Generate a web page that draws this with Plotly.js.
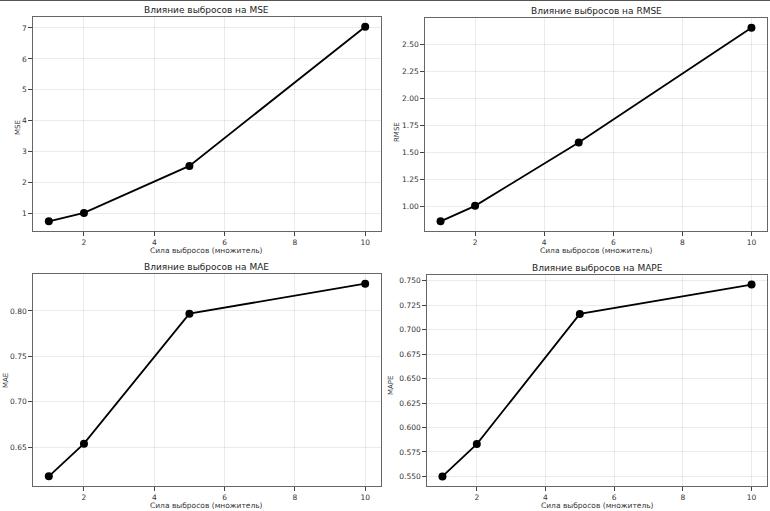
<!DOCTYPE html>
<html><head><meta charset="utf-8">
<script src="https://cdn.plot.ly/plotly-3.0.1.min.js"></script>
<style>html,body{margin:0;padding:0;background:#fff}#c{width:770px;height:511px}</style>
</head><body><div id="c"></div>
<script>
const strength = [1, 2, 5, 10];
const mse  = [0.75, 1.02, 2.54, 7.04];
const rmse = [0.865, 1.008, 1.594, 2.655];
const mae  = [0.618, 0.654, 0.797, 0.830];
const mape = [0.550, 0.583, 0.716, 0.746];
const xTicks = [2, 4, 6, 8, 10];
const titles = ['Влияние выбросов на MSE','Влияние выбросов на RMSE','Влияние выбросов на MAE','Влияние выбросов на MAPE'];
const yLabels = ['MSE','RMSE','MAE','MAPE'];
const xLabel = 'Сила выбросов (множитель)';
const yTicks = [[1,2,3,4,5,6,7],[1.00,1.25,1.50,1.75,2.00,2.25,2.50],[0.65,0.70,0.75,0.80],[0.550,0.575,0.600,0.625,0.650,0.675,0.700,0.725,0.750]];
const yFormats = ['d','.2f','.2f','.3f'];
const series = [mse, rmse, mae, mape];

const W = 770, H = 511;
const boxes = [ // pixel boxes [left,right,top,bottom]
  [33, 381, 17, 231],
  [425, 767, 18, 231],
  [33, 381, 274, 486],
  [427, 767, 275, 486]
];
const xLabelGap = [19.5, 19.5, 19.5, 19.5];
function pad(arr){const mn=Math.min(...arr), mx=Math.max(...arr), m=(mx-mn)*0.05; return [mn-m, mx+m];}
const font = "DejaVu Sans, sans-serif";
const traces = [], layout = {
  width: W, height: H, margin:{l:0,r:0,t:0,b:0}, showlegend:false,
  paper_bgcolor:'#fff', plot_bgcolor:'#fff', font:{family:font, color:'#222', size:7.5},
  annotations: [], shapes: [{type:'line', xref:'paper', yref:'paper', x0:0, x1:1, y0:1, y1:1, line:{color:'#555', width:2}}]
};
series.forEach((s, i) => {
  const n = i + 1, sx = n === 1 ? '' : n;
  traces.push({x: strength, y: s, xaxis: 'x'+sx, yaxis: 'y'+sx, type:'scatter', mode:'lines+markers',
    line:{color:'#000', width:1.8}, marker:{color:'#000', size:8}});
  const b = boxes[i];
  const ax = {
    domain:[b[0]/W, b[1]/W], range: pad(strength), tickvals: xTicks, ticks:'outside', ticklen:3.5, tickcolor:'#444',
    showline:true, mirror:true, linecolor:'#666', linewidth:1.2, showgrid:true, gridcolor:'rgba(0,0,0,0.08)', gridwidth:1,
    zeroline:false, tickfont:{size:7.5, color:'#333'}, anchor:'y'+sx
  };
  const ay = {
    domain:[(H-b[3])/H, (H-b[2])/H], range: pad(s), tickvals: yTicks[i], tickformat: yFormats[i], ticks:'outside', ticklen:3.5, tickcolor:'#444',
    showline:true, mirror:true, linecolor:'#666', linewidth:1.2, showgrid:true, gridcolor:'rgba(0,0,0,0.08)', gridwidth:1,
    zeroline:false, tickfont:{size:7.5, color:'#333'}, anchor:'x'+sx
  };
  layout['xaxis'+sx] = ax; layout['yaxis'+sx] = ay;
  const cx = (b[0]+b[1])/2/W;
  layout.annotations.push({text: titles[i], xref:'paper', yref:'paper', x: cx, y: (H-(b[2]-7))/H, showarrow:false, font:{size:9, color:'#222'}, xanchor:'center', yanchor:'middle'});
  layout.annotations.push({text: xLabel, xref:'paper', yref:'paper', x: cx, y: (H-(b[3]+xLabelGap[i]))/H, showarrow:false, borderpad:0, font:{size:7.5, color:'#333'}, xanchor:'center', yanchor:'middle'});
});
const ylabPos = [[18,128],[397,132],[6,381],[391,386]];
ylabPos.forEach((p,i)=>{
  layout.annotations.push({text: yLabels[i], xref:'paper', yref:'paper', x: p[0]/W, y: (H-p[1])/H, textangle:-90, showarrow:false, font:{size:7, color:'#333'}, xanchor:'center', yanchor:'middle'});
});
Plotly.newPlot('c', traces, layout, {staticPlot:true});
</script></body></html>
